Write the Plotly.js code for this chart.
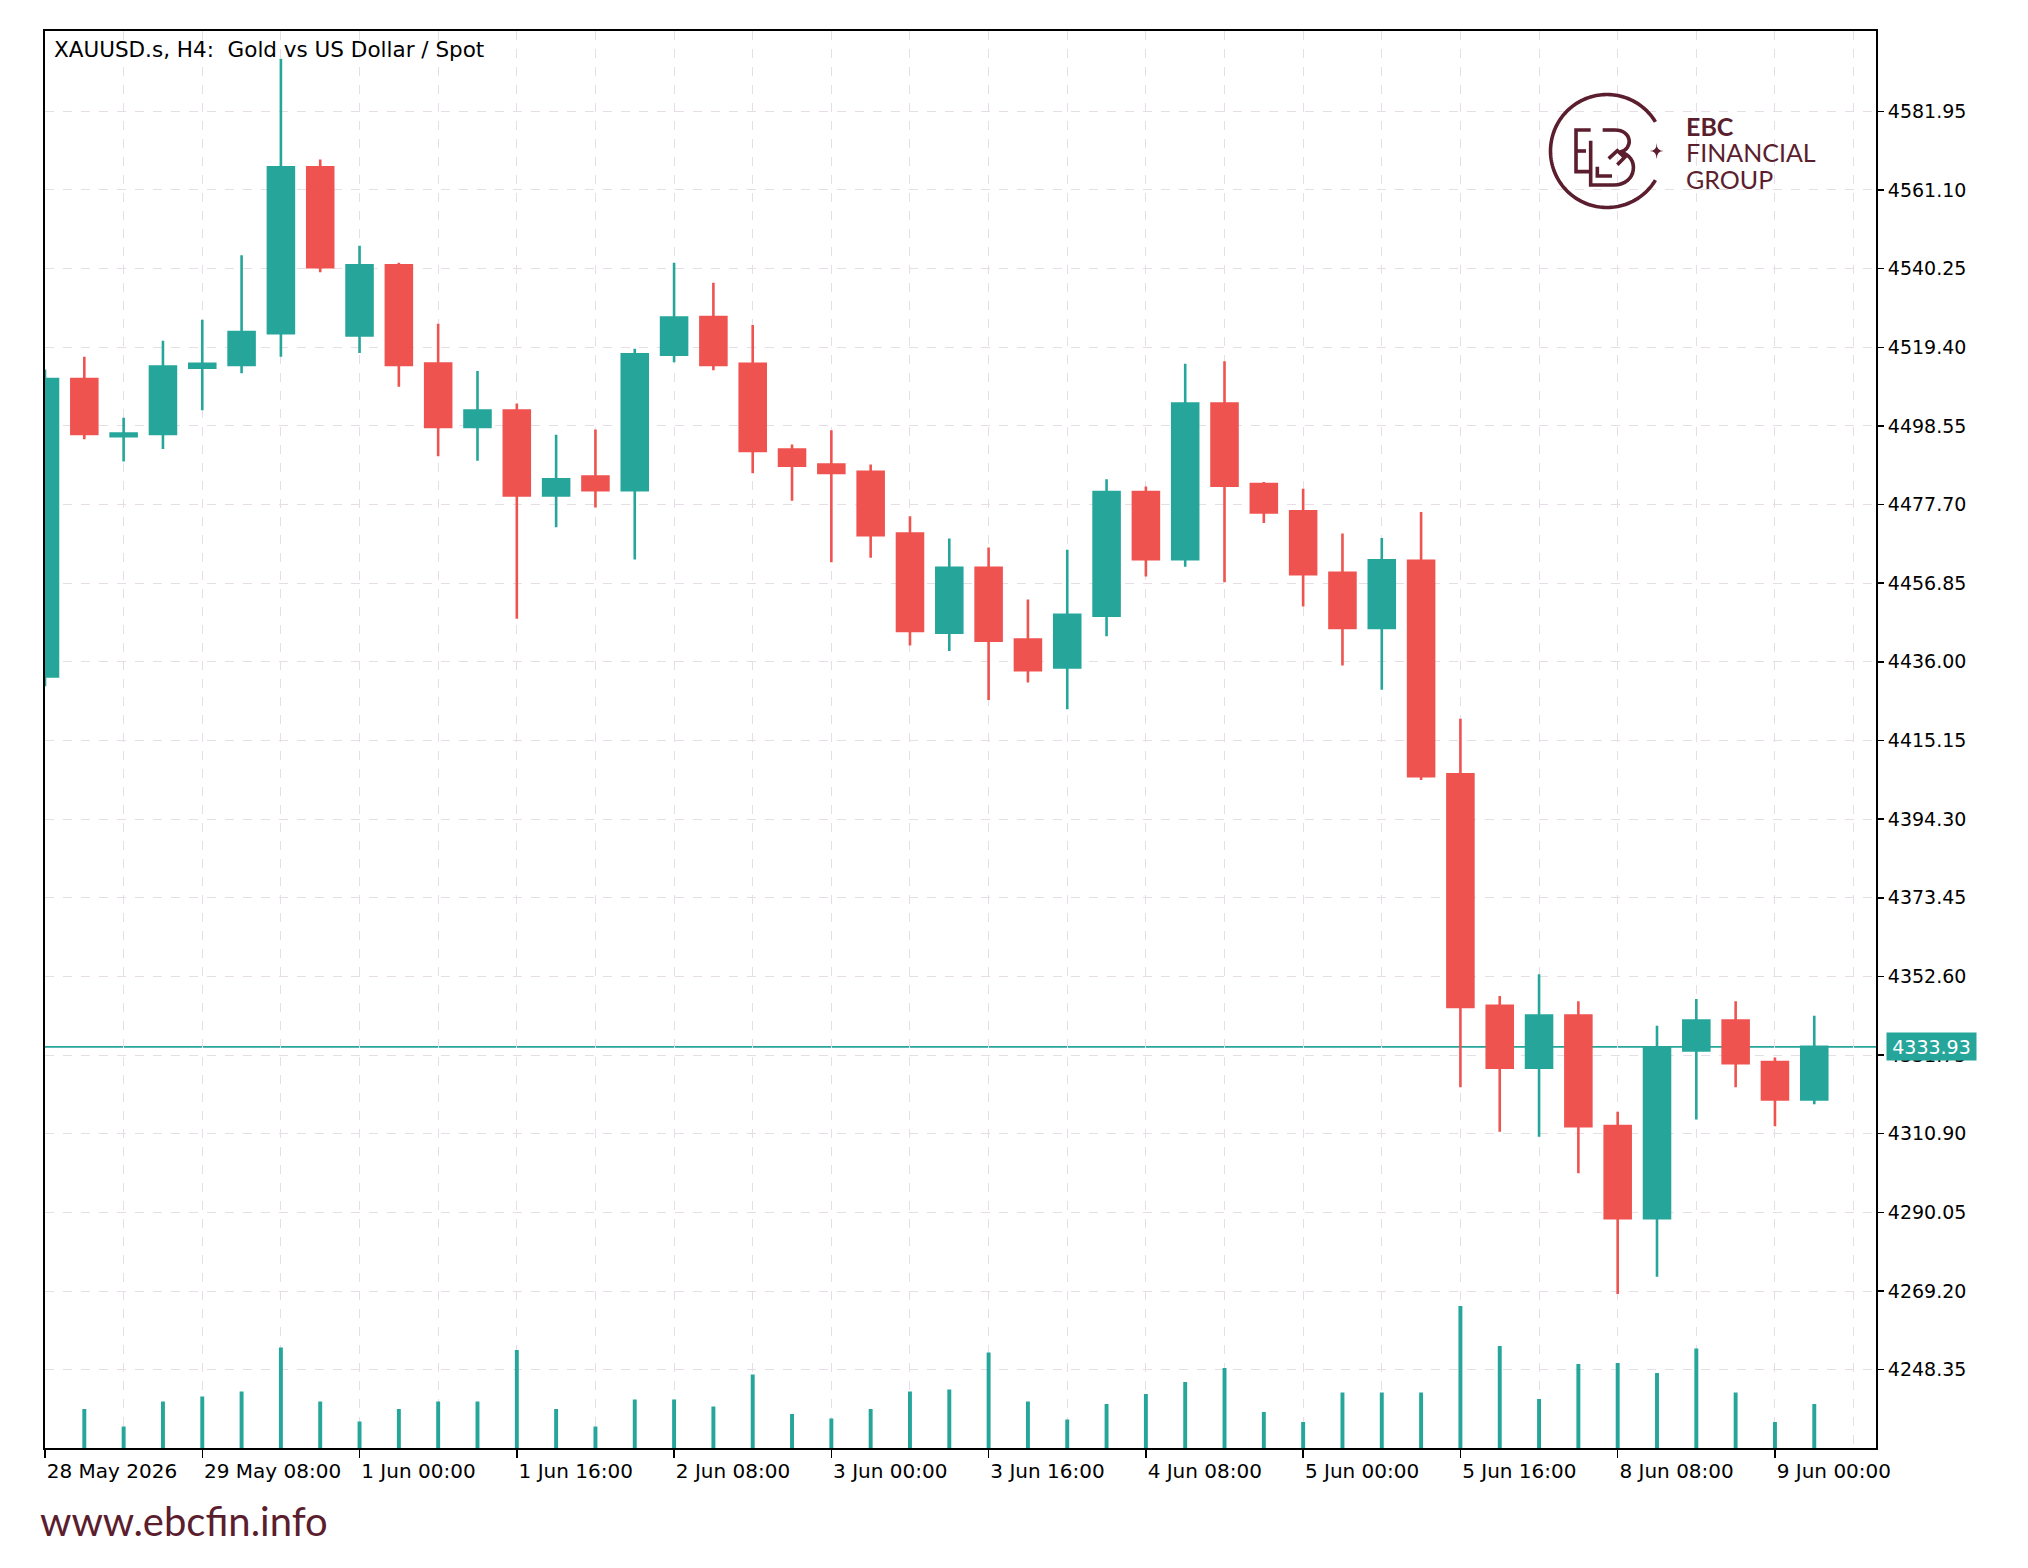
<!DOCTYPE html>
<html><head><meta charset="utf-8">
<script src="https://cdn.plot.ly/plotly-3.0.1.min.js"></script>
<style>html,body{margin:0;padding:0;background:#fff}</style>
</head><body><div id="chart" style="width:2028px;height:1568px"></div>
<script>
// ---- data ----
const barTimes = [
  "2026-05-28 16:00","2026-05-28 20:00",
  "2026-05-29 00:00","2026-05-29 04:00","2026-05-29 08:00","2026-05-29 12:00","2026-05-29 16:00","2026-05-29 20:00",
  "2026-06-01 00:00","2026-06-01 04:00","2026-06-01 08:00","2026-06-01 12:00","2026-06-01 16:00","2026-06-01 20:00",
  "2026-06-02 00:00","2026-06-02 04:00","2026-06-02 08:00","2026-06-02 12:00","2026-06-02 16:00","2026-06-02 20:00",
  "2026-06-03 00:00","2026-06-03 04:00","2026-06-03 08:00","2026-06-03 12:00","2026-06-03 16:00","2026-06-03 20:00",
  "2026-06-04 00:00","2026-06-04 04:00","2026-06-04 08:00","2026-06-04 12:00","2026-06-04 16:00","2026-06-04 20:00",
  "2026-06-05 00:00","2026-06-05 04:00","2026-06-05 08:00","2026-06-05 12:00","2026-06-05 16:00","2026-06-05 20:00",
  "2026-06-08 00:00","2026-06-08 04:00","2026-06-08 08:00","2026-06-08 12:00","2026-06-08 16:00","2026-06-08 20:00",
  "2026-06-09 00:00","2026-06-09 04:00"
];
const openPrices = [4432.1,4511.0,4495.8,4496.4,4514.0,4514.7,4523.1,4567.1,4522.5,4541.1,4515.1,4498.3,4502.6,4480.1,4485.1,4481.5,4517.4,4527.4,4515.0,4492.3,4488.3,4486.4,4470.0,4443.7,4460.9,4441.9,4434.5,4448.2,4481.0,4463.2,4504.5,4483.1,4475.9,4459.6,4445.0,4462.8,4406.2,4344.8,4328.4,4342.2,4312.9,4288.5,4333.0,4340.9,4329.9,4320.0];
const highPrices = [4513.5,4516.9,4500.7,4521.1,4526.7,4543.8,4595.9,4569.2,4546.3,4541.8,4525.6,4513.1,4504.5,4496.2,4497.6,4519.0,4541.8,4536.5,4525.3,4493.6,4497.4,4488.3,4474.6,4468.7,4466.3,4452.5,4465.7,4484.4,4482.5,4515.0,4515.7,4483.7,4481.9,4470.0,4468.8,4475.7,4420.9,4347.4,4353.2,4346.0,4316.7,4339.5,4346.6,4346.0,4331.1,4342.2];
const lowPrices = [4429.5,4495.0,4489.1,4492.4,4502.7,4512.5,4516.9,4539.3,4517.9,4508.9,4490.5,4489.3,4447.4,4471.7,4476.9,4463.1,4515.4,4513.3,4486.0,4478.7,4462.4,4463.6,4440.3,4438.9,4425.9,4430.5,4423.4,4442.8,4458.6,4461.2,4457.1,4472.8,4450.7,4435.0,4428.6,4404.7,4323.2,4311.4,4310.1,4300.4,4268.4,4273.0,4314.7,4323.2,4312.9,4318.7];
const closePrices = [4511.0,4496.4,4496.5,4514.3,4515.0,4523.4,4567.1,4540.6,4541.1,4514.7,4498.3,4502.6,4480.1,4484.4,4481.5,4517.5,4527.3,4514.7,4491.9,4488.0,4486.1,4469.6,4444.2,4460.9,4441.6,4433.8,4448.5,4481.0,4463.2,4504.5,4482.7,4475.6,4459.2,4445.0,4462.9,4405.7,4344.5,4328.4,4342.2,4312.9,4288.5,4333.7,4340.9,4329.6,4320.0,4333.93];
// first bar's volume is hidden behind the chart frame in the reference
const tickVolumes = [null,7800,4300,9300,10300,11300,20100,9300,5300,7800,9300,9300,19600,7800,4300,9700,9700,8300,14700,6800,5900,7800,11300,11700,19100,9300,5700,8800,10800,13200,16000,7200,5200,11100,11100,11100,28400,20400,9800,16800,17000,15000,19900,11100,5200,8800];
const xTickTimes = ["2026-05-28 16:00","2026-05-29 08:00","2026-06-01 00:00","2026-06-01 16:00","2026-06-02 08:00","2026-06-03 00:00","2026-06-03 16:00","2026-06-04 08:00","2026-06-05 00:00","2026-06-05 16:00","2026-06-08 08:00","2026-06-09 00:00"];
const xTickLabels = ["28 May 2026","29 May 08:00","1 Jun 00:00","1 Jun 16:00","2 Jun 08:00","3 Jun 00:00","3 Jun 16:00","4 Jun 08:00","5 Jun 00:00","5 Jun 16:00","8 Jun 08:00","9 Jun 00:00"];
const yTickLabels = ["4581.95","4561.10","4540.25","4519.40","4498.55","4477.70","4456.85","4436.00","4415.15","4394.30","4373.45","4352.60","4331.75","4310.90","4290.05","4269.20","4248.35"];
const lastPrice = 4333.93;
const chartTitle = "XAUUSD.s, H4:\u00a0\u00a0Gold vs US Dollar / Spot";
const brandLines = ["EBC", "FINANCIAL", "GROUP"];
const siteUrl = "www.ebcfin.info";

// ---- styling ----
const UP = '#26a69a', DOWN = '#ef5350', GRID = '#e6dde6', BRAND = '#5b1e2e';
const W = 2028, H = 1568;
const M = {l: 45, r: 152, t: 31, b: 120};
const PL = M.l, PR = W - M.r, PT = M.t, PB = H - M.b;
const PW = PR - PL, PH = PB - PT;
const pxX = X => (X - PL) / PW, pxY = Y => (PB - Y) / PH;
const px = (X, Y) => pxX(X).toFixed(5) + ',' + pxY(Y).toFixed(5);
const pathOf = pts => 'M' + pts.map(p => px(p[0], p[1])).join(' L');

const xIdx = barTimes.map((t, i) => i);
const tickvals = xTickTimes.map(t => barTimes.indexOf(t));
const ytickvals = yTickLabels.map(Number);

const candles = {
  type: 'candlestick', x: xIdx, open: openPrices, high: highPrices, low: lowPrices, close: closePrices,
  increasing: {line: {color: UP, width: 2.6}, fillcolor: UP},
  decreasing: {line: {color: DOWN, width: 2.6}, fillcolor: DOWN},
  whiskerwidth: 0, hoverinfo: 'skip', showlegend: false, xaxis: 'x', yaxis: 'y'
};
const volumes = {
  type: 'bar', x: xIdx, y: tickVolumes, width: 0.1, marker: {color: UP, line: {width: 0}},
  hoverinfo: 'skip', showlegend: false, xaxis: 'x', yaxis: 'y2'
};

// ---- logo geometry (pixel space) ----
const cx = 1607, cy = 151, r = 56.5;
const arc = [];
for (let d = 31; d <= 329; d += 2) {
  const a = d * Math.PI / 180;
  arc.push([cx + r * Math.cos(a), cy - r * Math.sin(a)]);
}
const zx = d => 1520 + d / 3, zy = d => 70 + d / 3;
const z = pts => pts.map(p => [zx(p[0]), zy(p[1])]);
const logoStroke = {color: BRAND, width: 3.6};
const logoPaths = [
  pathOf(arc),
  pathOf(z([[212,180],[168,180],[168,305],[212,305]])),
  pathOf(z([[168,243],[198,243]])),
  pathOf(z([[212,212],[212,345],[282,345]])),
  pathOf(z([[232,290],[232,318],[276,318]])),
  pathOf(z([[248,180],[285,180]])),
  pathOf(z([[266,266],[292,242],[314,262],[292,284]]))
];
const shapes = [];
logoPaths.forEach(p => shapes.push({type: 'path', xref: 'paper', yref: 'paper', path: p, line: logoStroke, layer: 'above'}));
const c = (a,b) => px(zx(a), zy(b));
shapes.push({type:'path', xref:'paper', yref:'paper', layer:'above', line: logoStroke,
  path: 'M' + c(285,180) + ' C' + c(338,180) + ' ' + c(340,238) + ' ' + c(300,246) +
        ' C' + c(360,258) + ' ' + c(352,345) + ' ' + c(282,345)});
// four-point star
const sx = zx(410), sy = zy(243);
shapes.push({type:'path', xref:'paper', yref:'paper', layer:'above', line:{width:0}, fillcolor: BRAND,
  path: 'M' + px(sx, sy-8) + ' Q' + px(sx, sy) + ' ' + px(sx+7, sy) + ' Q' + px(sx, sy) + ' ' + px(sx, sy+8) +
        ' Q' + px(sx, sy) + ' ' + px(sx-7, sy) + ' Q' + px(sx, sy) + ' ' + px(sx, sy-8) + ' Z'});
// last price line
shapes.push({type: 'line', xref: 'paper', x0: 0, x1: 1, yref: 'y', y0: lastPrice, y1: lastPrice,
  line: {color: UP, width: 1.6}, layer: 'below'});

const annotations = [
  {xref:'paper', yref:'paper', x: pxX(52), y: pxY(49), xanchor:'left', yanchor:'middle',
   text: chartTitle, showarrow:false, font:{family:'DejaVu Sans', size:21.5, color:'#000'}},
  {xref:'paper', yref:'y', x: 1, xshift: 10, y: lastPrice, xanchor:'left', yanchor:'middle',
   text: lastPrice.toFixed(2), showarrow:false, bgcolor: UP, width: 89, height: 27, borderpad: 0,
   font:{family:'DejaVu Sans', size:19, color:'#fff'}},
  {xref:'paper', yref:'paper', x: pxX(38), y: pxY(1521), xanchor:'left', yanchor:'middle',
   text: siteUrl, showarrow:false, font:{family:'Lato', size:40, color: BRAND}}
];
const brandY = [126, 152, 179];
brandLines.forEach((t, k) => annotations.push({
  xref:'paper', yref:'paper', x: pxX(1684), y: pxY(brandY[k]),
  xanchor:'left', yanchor:'middle', showarrow:false,
  text: k === 0 ? '<b>' + t + '</b>' : t, font:{family:'Lato', size:25, color: BRAND}
}));

const layout = {
  width: W, height: H, margin: M, paper_bgcolor: '#fff', plot_bgcolor: '#fff',
  showlegend: false, hovermode: false, boxgap: 0.34, boxgroupgap: 0,
  font: {family: 'DejaVu Sans', color: '#000'},
  xaxis: {
    type: 'linear', range: [0, 46.57], fixedrange: true, zeroline: false,
    showline: true, mirror: true, linecolor: '#000', linewidth: 2,
    tickmode: 'array', tickvals: tickvals, ticktext: xTickLabels,
    ticks: 'outside', ticklen: 8, tickwidth: 1.5, tickcolor: '#000', ticklabelstandoff: 4,
    ticklabelposition: 'outside right', tickfont: {family: 'DejaVu Sans', size: 20, color: '#000'},
    showgrid: true, gridcolor: GRID, gridwidth: 1, griddash: 'dash',
    minor: {tickmode: 'linear', tick0: 0, dtick: 2, showgrid: true, gridcolor: GRID, gridwidth: 1, griddash: 'dash', ticks: ''},
    rangeslider: {visible: false}
  },
  yaxis: {
    side: 'right', range: [4227.58, 4603.24], fixedrange: true, zeroline: false,
    showline: true, mirror: true, linecolor: '#000', linewidth: 2,
    tickmode: 'array', tickvals: ytickvals, ticktext: yTickLabels,
    ticks: 'outside', ticklen: 6, tickwidth: 1.5, tickcolor: '#000',
    tickfont: {family: 'DejaVu Sans', size: 19, color: '#000'},
    showgrid: true, gridcolor: GRID, gridwidth: 1, griddash: 'dash'
  },
  yaxis2: {overlaying: 'y', range: [0, 283400], visible: false, fixedrange: true, showgrid: false, zeroline: false},
  shapes: shapes, annotations: annotations
};

Plotly.newPlot('chart', [volumes, candles], layout, {staticPlot: true, displayModeBar: false});
</script></body></html>
